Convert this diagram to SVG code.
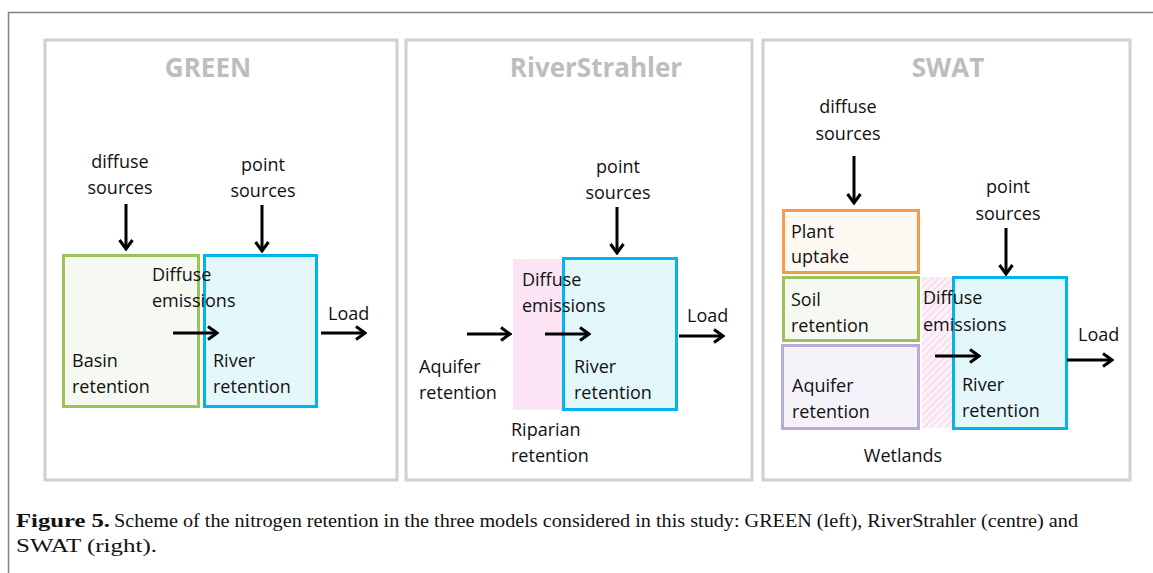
<svg xmlns="http://www.w3.org/2000/svg" width="1153" height="573" viewBox="0 0 1153 573">
<style>
.panel{fill:#fff;stroke:#d0d0d0;stroke-width:3}
.title{font-family:"Open Sans","Liberation Sans",sans-serif;font-weight:bold;font-size:26px;fill:#bdbdbd;text-anchor:middle}
.t{font-family:"Open Sans","Liberation Sans",sans-serif;font-size:18px;fill:#111}
.c{text-anchor:middle}
.river{fill:#e4f8fc;stroke:#00b4ee;stroke-width:3}
.basin{fill:#f6f9f1;stroke:#9bc35a;stroke-width:3}
.plant{fill:#fdf8f2;stroke:#f79a4a;stroke-width:3}
.aquifer{fill:#f5f3f9;stroke:#bba9d8;stroke-width:3}
.arr{stroke:#000;stroke-width:3;fill:none;marker-end:url(#ah)}
.cap{font-family:"Liberation Serif",serif;font-size:19.5px;fill:#111}
</style>
<defs>
<marker id="ah" viewBox="0 0 12 16" refX="10.5" refY="8" markerWidth="12" markerHeight="16" markerUnits="userSpaceOnUse" orient="auto">
<path d="M1.5,1.5 L10.5,8 L1.5,14.5" fill="none" stroke="#000" stroke-width="3"/>
</marker>
<pattern id="hatch" patternUnits="userSpaceOnUse" width="5" height="5" patternTransform="rotate(45)">
<rect width="5" height="5" fill="#fdf1f8"/>
<line x1="0" y1="0" x2="0" y2="5" stroke="#f6c6e2" stroke-width="1.5"/>
</pattern>
</defs>
<rect width="1153" height="573" fill="#fff"/>
<path d="M8.5,573 V12.5 H1153" fill="none" stroke="#808080" stroke-width="1.5"/>

<g id="panel-green">
<rect class="panel" x="45" y="40" width="352" height="440"/>
<text class="title" x="208" y="77">GREEN</text>
</g>
<g id="panel-riverstrahler">
<rect class="panel" x="406" y="40" width="346" height="440"/>
<text class="title" x="596" y="77">RiverStrahler</text>
</g>
<g id="panel-swat">
<rect class="panel" x="763" y="40" width="367" height="440"/>
<text class="title" x="948" y="77">SWAT</text>
</g>

<!-- GREEN -->
<g id="green-diffuse-sources"><text class="t c" x="120" y="168">diffuse</text><text class="t c" x="120" y="194">sources</text></g>
<g id="green-point-sources"><text class="t c" x="263" y="171">point</text><text class="t c" x="263" y="197">sources</text></g>
<g id="green-basin"><rect class="basin" x="63.5" y="255.5" width="135" height="151"/><text class="t" x="72" y="367">Basin</text><text class="t" x="72" y="393">retention</text></g>
<g id="green-river"><rect class="river" x="204.5" y="255.5" width="112" height="151"/><text class="t" x="213" y="367">River</text><text class="t" x="213" y="393">retention</text></g>
<g id="green-diffuse-emissions"><text class="t" x="152" y="281">Diffuse</text><text class="t" x="152" y="307">emissions</text></g>
<g id="green-load"><text class="t" x="328" y="320">Load</text></g>

<!-- RiverStrahler -->
<g id="rs-point-sources"><text class="t c" x="618" y="173">point</text><text class="t c" x="618" y="199">sources</text></g>
<g id="rs-riparian"><rect x="513" y="259" width="51" height="151" fill="#fce4f4"/><text class="t" x="511" y="436">Riparian</text><text class="t" x="511" y="462">retention</text></g>
<g id="rs-river"><rect class="river" x="563.5" y="258.5" width="113" height="151"/><text class="t" x="574" y="373">River</text><text class="t" x="574" y="399">retention</text></g>
<g id="rs-diffuse-emissions"><text class="t" x="522" y="286">Diffuse</text><text class="t" x="522" y="312">emissions</text></g>
<g id="rs-aquifer"><text class="t" x="419" y="373">Aquifer</text><text class="t" x="419" y="399">retention</text></g>
<g id="rs-load"><text class="t" x="687" y="322">Load</text></g>

<!-- SWAT -->
<g id="swat-diffuse-sources"><text class="t c" x="848" y="113">diffuse</text><text class="t c" x="848" y="140">sources</text></g>
<g id="swat-plant"><rect class="plant" x="783.5" y="210.5" width="135" height="62"/><text class="t" x="791" y="238">Plant</text><text class="t" x="791" y="263">uptake</text></g>
<g id="swat-soil"><rect class="basin" x="783.5" y="277.5" width="135" height="63"/><text class="t" x="791" y="306">Soil</text><text class="t" x="791" y="332">retention</text></g>
<g id="swat-aquifer"><rect class="aquifer" x="782.5" y="345.5" width="136" height="83"/><text class="t" x="792" y="392">Aquifer</text><text class="t" x="792" y="418">retention</text></g>
<g id="swat-wetlands"><rect x="922" y="277" width="32" height="151" fill="url(#hatch)"/><text class="t c" x="903" y="462">Wetlands</text></g>
<g id="swat-river"><rect class="river" x="953.5" y="277.5" width="113" height="151"/><text class="t" x="962" y="391">River</text><text class="t" x="962" y="417">retention</text></g>
<g id="swat-point-sources"><text class="t c" x="1008" y="193">point</text><text class="t c" x="1008" y="220">sources</text></g>
<g id="swat-diffuse-emissions"><text class="t" x="923" y="304">Diffuse</text><text class="t" x="923" y="331">emissions</text></g>
<g id="swat-load"><text class="t" x="1078" y="341">Load</text></g>

<g id="connectors">
<line class="arr" x1="126" y1="204" x2="126" y2="249"/>
<line class="arr" x1="262" y1="205" x2="262" y2="251"/>
<line class="arr" x1="173" y1="333" x2="217" y2="333"/>
<line class="arr" x1="321" y1="333" x2="365" y2="333"/>
<line class="arr" x1="617" y1="207" x2="617" y2="253"/>
<line class="arr" x1="467" y1="334" x2="510" y2="334"/>
<line class="arr" x1="545" y1="334" x2="589" y2="334"/>
<line class="arr" x1="679" y1="336" x2="723" y2="336"/>
<line class="arr" x1="854" y1="156" x2="854" y2="203"/>
<line class="arr" x1="1006" y1="228" x2="1006" y2="274"/>
<line class="arr" x1="935" y1="356" x2="979" y2="356"/>
<line class="arr" x1="1067" y1="360" x2="1112" y2="360"/>
</g>

<g id="caption">
<text class="cap" x="16" y="527" font-weight="bold" textLength="94" lengthAdjust="spacingAndGlyphs">Figure 5.</text>
<text class="cap" x="114" y="527" textLength="964" lengthAdjust="spacingAndGlyphs">Scheme of the nitrogen retention in the three models considered in this study: GREEN (left), RiverStrahler (centre) and</text>
<text class="cap" x="16" y="552" textLength="141" lengthAdjust="spacingAndGlyphs">SWAT (right).</text>
</g>
</svg>
